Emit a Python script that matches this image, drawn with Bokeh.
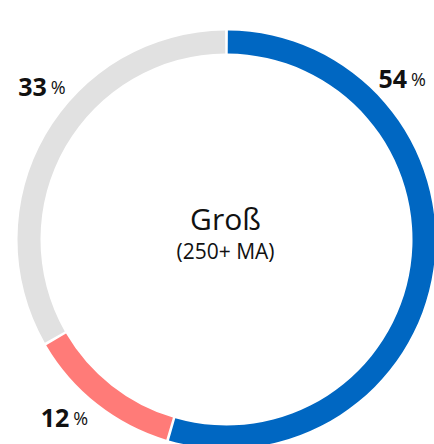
import math
from bokeh.plotting import figure
from bokeh.models import Range1d
from bokeh.core.properties import value
from bokeh.embed import file_html
from bokeh.resources import INLINE

# ---- data ----
categories = ["Segment 1", "Segment 2", "Segment 3"]
values = [54, 12, 33]
pct_labels = ["54", "12", "33"]
colors = ["#0067C2", "#FF7B78", "#E1E1E1"]
center_title = "Groß"
center_subtitle = "(250+ MA)"

# ---- layout constants ----
W, H = 434, 444
R_OUT, R_IN = 209, 186
GAP_PX = 2.6
TEXT_DY = 8
label_anchor_deg = [50, 220, 309]     # clockwise from top
label_anchor_r = [237, 243, 230]

p = figure(width=W, height=H, output_backend="svg", toolbar_location=None,
           x_range=Range1d(-226, 208), y_range=Range1d(-205, 239),
           min_border=0, tools="")
p.axis.visible = False
p.grid.visible = False
p.outline_line_color = None
p.background_fill_color = "white"
p.border_fill_color = "white"

total = float(sum(values))
gap = GAP_PX / ((R_OUT + R_IN) / 2.0)
starts, ends = [], []
acc = 0.0
for v in values:
    t0 = acc / total * 2 * math.pi
    acc += v
    t1 = acc / total * 2 * math.pi
    starts.append(math.pi / 2 - (t0 + gap / 2))
    ends.append(math.pi / 2 - (t1 - gap / 2))

p.annular_wedge(x=0, y=0, inner_radius=R_IN, outer_radius=R_OUT,
                start_angle=starts, end_angle=ends, direction="clock",
                fill_color=colors, line_color=None)

lx, ly = [], []
for d, r in zip(label_anchor_deg, label_anchor_r):
    a = math.radians(d)
    lx.append(r * math.sin(a))
    ly.append(r * math.cos(a) + TEXT_DY)

p.text(x=[x - 1 for x in lx], y=ly, text=pct_labels,
       text_font=value("Open Sans"), text_font_size="25px", text_font_style="bold",
       text_align="right", text_baseline="alphabetic", text_color="#111111")
p.text(x=[x + 3 for x in lx], y=ly, text=["%"] * len(values),
       text_font=value("Open Sans"), text_font_size="18px", text_font_style="normal",
       text_align="left", text_baseline="alphabetic", text_color="#111111")

p.text(x=[-1], y=[13 + TEXT_DY], text=[center_title], text_font=value("Open Sans"),
       text_font_size="30px", text_align="center", text_baseline="alphabetic",
       text_color="#111111")
p.text(x=[-1], y=[-19 + TEXT_DY], text=[center_subtitle], text_font=value("Open Sans"),
       text_font_size="21px", text_align="center", text_baseline="alphabetic",
       text_color="#111111")

open("out.html", "w").write(file_html(p, INLINE))
